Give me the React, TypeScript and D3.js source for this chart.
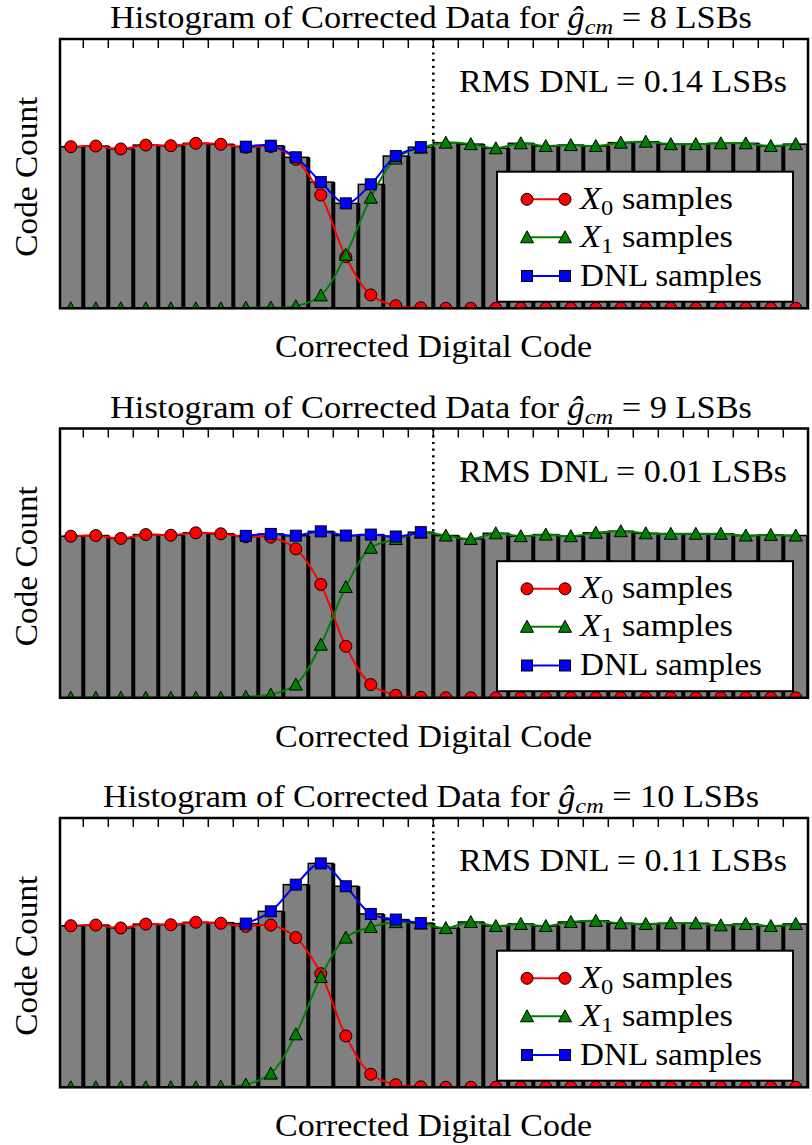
import React from "react";
import * as d3 from "d3";

// normalized code counts (1 = nominal bin count), one entry per corrected code
const codes = d3.range(30);

const x0G8 = [1.004, 1.008, 0.99, 1.014, 1.01, 1.025, 1.019, 1.0, 1.005, 0.925, 0.704, 0.32, 0.083, 0.016, 0.003, 0, 0, 0, 0, 0, 0, 0, 0, 0, 0, 0, 0, 0, 0, 0];
const x1G8 = [0, 0, 0, 0, 0, 0, 0, 0.004, 0.005, 0.013, 0.08, 0.332, 0.687, 0.93, 0.998, 1.029, 1.02, 0.994, 1.025, 1.008, 1.014, 1.008, 1.029, 1.035, 1.02, 1.02, 1.025, 1.025, 1.008, 1.02];

const x0G9 = [1.004, 1.008, 0.99, 1.014, 1.01, 1.025, 1.019, 1.0, 0.998, 0.925, 0.704, 0.32, 0.082, 0.016, 0.003, 0, 0, 0, 0, 0, 0, 0, 0, 0, 0, 0, 0, 0, 0, 0];
const x1G9 = [0, 0, 0, 0, 0, 0, 0, 0.006, 0.02, 0.082, 0.33, 0.688, 0.932, 0.986, 1.026, 1.008, 0.987, 1.022, 1.004, 1.014, 1.004, 1.025, 1.035, 1.022, 1.019, 1.019, 1.019, 1.008, 1.012, 1.008];

const x0G10 = [1.004, 1.008, 0.99, 1.014, 1.01, 1.025, 1.019, 1.0, 1.008, 0.93, 0.706, 0.319, 0.081, 0.016, 0.003, 0, 0, 0, 0, 0, 0, 0, 0, 0, 0, 0, 0, 0, 0, 0];
const x1G10 = [0, 0, 0, 0, 0, 0, 0.004, 0.017, 0.085, 0.329, 0.685, 0.93, 0.996, 1.026, 1.017, 0.989, 1.027, 1.002, 1.015, 1.002, 1.027, 1.034, 1.019, 1.015, 1.019, 1.019, 1.006, 1.015, 1.002, 1.015];

const gains = ["8", "9", "10"];
const rmsDnl = ["0.14", "0.01", "0.11"];
const dnlCodes = d3.range(7, 15); // codes where the two sample sets overlap
const splitCode = 15;

const FONT = "'Liberation Serif', 'Times New Roman', serif";

type PanelProps = {
    top: number;
    x0: number[];
    x1: number[];
    gain: string;
    rms: string;
    id: string;
};

const Triangle = ({ cx, cy, fill }: { cx: number; cy: number; fill: string }) => (
    <path
        d={`M${cx},${cy - 6.5}L${cx - 6.5},${cy + 5.5}L${cx + 6.5},${cy + 5.5}Z`}
        fill={fill}
        stroke="black"
        strokeWidth={1}
    />
);

const Square = ({ cx, cy, fill }: { cx: number; cy: number; fill: string }) => (
    <rect x={cx - 5.5} y={cy - 5.5} width={11} height={11} fill={fill} stroke="black" strokeWidth={1} />
);

const Dot = ({ cx, cy, fill }: { cx: number; cy: number; fill: string }) => (
    <circle cx={cx} cy={cy} r={6} fill={fill} stroke="black" strokeWidth={1} />
);

const Panel = ({ top, x0, x1, gain, rms, id }: PanelProps) => {
    const left = 60;
    const right = 808;
    const bottom = top + 269.3;

    const x = d3.scaleLinear().domain([0, 30]).range([58.3, 808.3]);
    const y = d3.scaleLinear().domain([0, 1.673]).range([bottom, top]);

    const counts = codes.map((i) => x0[i] + x1[i]);
    const cx = (i: number) => x(i + 0.5);

    const line = d3
        .line<number>()
        .x((i) => cx(i))
        .curve(d3.curveCatmullRom.alpha(0.5));

    const redPath = line.y((i) => y(x0[i]))(codes) as string;
    const greenPath = line.y((i) => y(x1[i]))(codes) as string;
    const bluePath = line.y((i) => y(counts[i]))(dnlCodes) as string;

    const midY = (top + bottom) / 2;
    const wide = gain.length > 1;

    // legend geometry
    const lgX = 497;
    const lgY = top + 132.7;
    const rows = [top + 160.3, top + 198.3, top + 237];

    return (
        <g>
            <defs>
                <clipPath id={id}>
                    <rect x={left} y={top} width={right - left} height={bottom - top} />
                </clipPath>
            </defs>

            {/* title */}
            <text
                x={wide ? 103 : 110}
                y={top - 11}
                fontFamily={FONT}
                fontSize={31}
                textLength={wide ? 656 : 642}
                lengthAdjust="spacingAndGlyphs"
            >
                Histogram of Corrected Data for{" "}
                <tspan fontStyle="italic">ĝ</tspan>
                <tspan fontStyle="italic" fontSize={22} dy={6}>cm</tspan>
                <tspan dy={-6}> = {gain} LSBs</tspan>
            </text>

            <g clipPath={`url(#${id})`}>
                {/* dotted split marker */}
                <line
                    x1={x(splitCode)}
                    x2={x(splitCode)}
                    y1={top}
                    y2={bottom}
                    stroke="black"
                    strokeWidth={2.5}
                    strokeDasharray="2.2,4.5"
                />

                {/* histogram bars */}
                {codes.map((i) => (
                    <rect
                        key={`b${i}`}
                        x={x(i)}
                        y={y(counts[i])}
                        width={x(i + 1) - x(i)}
                        height={bottom - y(counts[i])}
                        fill="#808080"
                        stroke="black"
                        strokeWidth={1.5}
                    />
                ))}
                {codes.map((i) => (
                    <line
                        key={`e${i}`}
                        x1={x(i + 1)}
                        x2={x(i + 1)}
                        y1={bottom}
                        y2={y(counts[i])}
                        stroke="black"
                        strokeWidth={4}
                    />
                ))}

                {/* X0 samples */}
                <path d={redPath} fill="none" stroke="#ff0000" strokeWidth={2} />
                {codes.map((i) => (
                    <Dot key={`r${i}`} cx={cx(i)} cy={y(x0[i])} fill="#ff0000" />
                ))}

                {/* X1 samples */}
                <path d={greenPath} fill="none" stroke="#008000" strokeWidth={2} />
                {codes.map((i) => (
                    <Triangle key={`g${i}`} cx={cx(i)} cy={y(x1[i])} fill="#008000" />
                ))}

                {/* DNL samples */}
                <path d={bluePath} fill="none" stroke="#0000ff" strokeWidth={2} />
                {dnlCodes.map((i) => (
                    <Square key={`s${i}`} cx={cx(i)} cy={y(counts[i])} fill="#0000ff" />
                ))}
            </g>

            {/* top ticks */}
            {d3.range(1, 30).map((k) => (
                <line key={`t${k}`} x1={x(k)} x2={x(k)} y1={top} y2={top + 9} stroke="black" strokeWidth={1.5} />
            ))}

            {/* frame */}
            <rect x={left} y={top} width={right - left} height={bottom - top} fill="none" stroke="black" strokeWidth={2.5} />

            <text
                x={459}
                y={top + 53}
                fontFamily={FONT}
                fontSize={31}
                textLength={328}
                lengthAdjust="spacingAndGlyphs"
            >
                RMS DNL = {rms} LSBs
            </text>

            {/* legend */}
            <rect x={lgX} y={lgY} width={296} height={130} fill="white" stroke="black" strokeWidth={2} />
            <line x1={527} x2={565} y1={rows[0]} y2={rows[0]} stroke="#ff0000" strokeWidth={2} />
            <Dot cx={527} cy={rows[0]} fill="#ff0000" />
            <Dot cx={565} cy={rows[0]} fill="#ff0000" />
            <line x1={527} x2={565} y1={rows[1]} y2={rows[1]} stroke="#008000" strokeWidth={2} />
            <Triangle cx={527} cy={rows[1]} fill="#008000" />
            <Triangle cx={565} cy={rows[1]} fill="#008000" />
            <line x1={527} x2={565} y1={rows[2]} y2={rows[2]} stroke="#0000ff" strokeWidth={2} />
            <Square cx={527} cy={rows[2]} fill="#0000ff" />
            <Square cx={565} cy={rows[2]} fill="#0000ff" />

            <text x={580} y={rows[0] + 9.5} fontFamily={FONT} fontSize={31} textLength={153} lengthAdjust="spacingAndGlyphs">
                <tspan fontStyle="italic">X</tspan>
                <tspan fontSize={22} dy={6}>0</tspan>
                <tspan dy={-6}> samples</tspan>
            </text>
            <text x={580} y={rows[1] + 9.5} fontFamily={FONT} fontSize={31} textLength={153} lengthAdjust="spacingAndGlyphs">
                <tspan fontStyle="italic">X</tspan>
                <tspan fontSize={22} dy={6}>1</tspan>
                <tspan dy={-6}> samples</tspan>
            </text>
            <text x={580} y={rows[2] + 9.5} fontFamily={FONT} fontSize={31} textLength={182} lengthAdjust="spacingAndGlyphs">
                DNL samples
            </text>

            {/* axis labels */}
            <text
                x={275}
                y={top + 318}
                fontFamily={FONT}
                fontSize={31}
                textLength={317}
                lengthAdjust="spacingAndGlyphs"
            >
                Corrected Digital Code
            </text>
            <text
                transform={`translate(36.7,${midY + 3}) rotate(-90)`}
                x={-80}
                fontFamily={FONT}
                fontSize={31}
                textLength={160}
                lengthAdjust="spacingAndGlyphs"
            >
                Code Count
            </text>
        </g>
    );
};

export default function App() {
    const tops = [39, 428.5, 818];
    const data = [
        [x0G8, x1G8],
        [x0G9, x1G9],
        [x0G10, x1G10],
    ];
    return (
        <svg
            width={812}
            height={1145}
            style={{ position: "absolute", left: 0, top: 0, background: "white" }}
        >
            {tops.map((t, p) => (
                <Panel
                    key={p}
                    id={`clip${p}`}
                    top={t}
                    x0={data[p][0]}
                    x1={data[p][1]}
                    gain={gains[p]}
                    rms={rmsDnl[p]}
                />
            ))}
        </svg>
    );
}
